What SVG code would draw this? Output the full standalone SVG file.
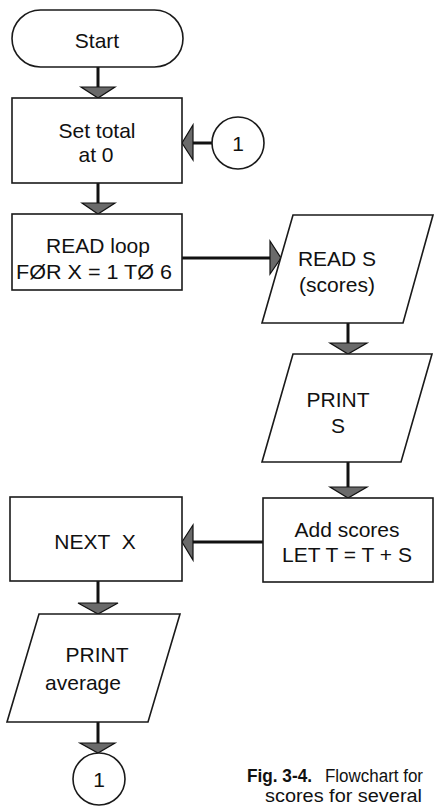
<svg xmlns="http://www.w3.org/2000/svg" width="434" height="806" viewBox="0 0 434 806">
<style>
.shape{fill:#fff;stroke:#1a1a1a;stroke-width:1.6}
.conn{stroke:#111;stroke-width:3;fill:none}
.head{fill:#6a6a6a;stroke:#111;stroke-width:1.2;stroke-linejoin:miter}
.t{font-family:"Liberation Sans",Arial,sans-serif;font-size:21px;fill:#111;text-anchor:middle}
.cap{font-family:"Liberation Sans",Arial,sans-serif;font-size:18px;fill:#111}
</style>
<rect width="434" height="806" fill="#fff"/>
<g id="connectors">
<line class="conn" x1="98" y1="67" x2="98" y2="88"/>
<polygon class="head" points="81,87 115,87 98,98"/>
<line class="conn" x1="212" y1="143" x2="191" y2="143"/>
<polygon class="head" points="193,125 193,160 182,143"/>
<line class="conn" x1="98" y1="183" x2="98" y2="204"/>
<polygon class="head" points="82,203 115,203 98,214"/>
<line class="conn" x1="182" y1="258" x2="271" y2="258"/>
<polygon class="head" points="270,241 270,274 281,258"/>
<line class="conn" x1="348" y1="323" x2="348" y2="344"/>
<polygon class="head" points="330,343 367,343 348,354"/>
<line class="conn" x1="348" y1="462" x2="348" y2="488"/>
<polygon class="head" points="330,487 367,487 348,498"/>
<line class="conn" x1="263" y1="542" x2="192" y2="542"/>
<polygon class="head" points="193,525 193,560 182,542"/>
<line class="conn" x1="98" y1="581" x2="98" y2="604"/>
<polygon class="head" points="78,603 118,603 98,614"/>
<line class="conn" x1="98" y1="722" x2="98" y2="744"/>
<polygon class="head" points="80,743 115,743 98,753"/>
</g>
<g id="start">
<rect class="shape" x="12" y="10" width="171" height="57" rx="28.5"/>
<text class="t" x="97" y="48">Start</text>
</g>
<g id="set-total">
<rect class="shape" x="12" y="98" width="170" height="85"/>
<text class="t" x="97" y="138">Set total</text>
<text class="t" x="96" y="162">at 0</text>
</g>
<g id="connector-in">
<circle class="shape" cx="238" cy="143" r="26"/>
<text class="t" x="238" y="151">1</text>
</g>
<g id="read-loop">
<rect class="shape" x="12" y="214" width="170" height="76"/>
<text class="t" x="98" y="253">READ loop</text>
<text class="t" x="94" y="279" textLength="156" lengthAdjust="spacingAndGlyphs">FØR X = 1 TØ 6</text>
</g>
<g id="read-s">
<polygon class="shape" points="293,215 433,215 403,323 262,323"/>
<text class="t" x="337" y="266">READ S</text>
<text class="t" x="337" y="292">(scores)</text>
</g>
<g id="print-s">
<polygon class="shape" points="293,354 432,354 401,462 262,462"/>
<text class="t" x="338" y="407">PRINT</text>
<text class="t" x="338" y="433">S</text>
</g>
<g id="add-scores">
<rect class="shape" x="263" y="498" width="170" height="84"/>
<text class="t" x="347" y="537">Add scores</text>
<text class="t" x="347" y="562">LET T = T + S</text>
</g>
<g id="next-x">
<rect class="shape" x="10" y="497" width="172" height="84"/>
<text class="t" x="95" y="549" style="white-space:pre">NEXT  X</text>
</g>
<g id="print-average">
<polygon class="shape" points="39,614 180,614 148,722 7,722"/>
<text class="t" x="97" y="662">PRINT</text>
<text class="t" x="83" y="690">average</text>
</g>
<g id="connector-out">
<circle class="shape" cx="99" cy="779" r="26"/>
<text class="t" x="99" y="787">1</text>
</g>
<g id="caption">
<text class="cap" x="247" y="782" font-weight="bold" textLength="65" lengthAdjust="spacingAndGlyphs">Fig. 3-4.</text>
<text class="cap" x="325" y="782" textLength="98" lengthAdjust="spacingAndGlyphs">Flowchart for</text>
<text class="cap" x="265" y="802" textLength="157" lengthAdjust="spacingAndGlyphs">scores for several</text>
</g>
</svg>
